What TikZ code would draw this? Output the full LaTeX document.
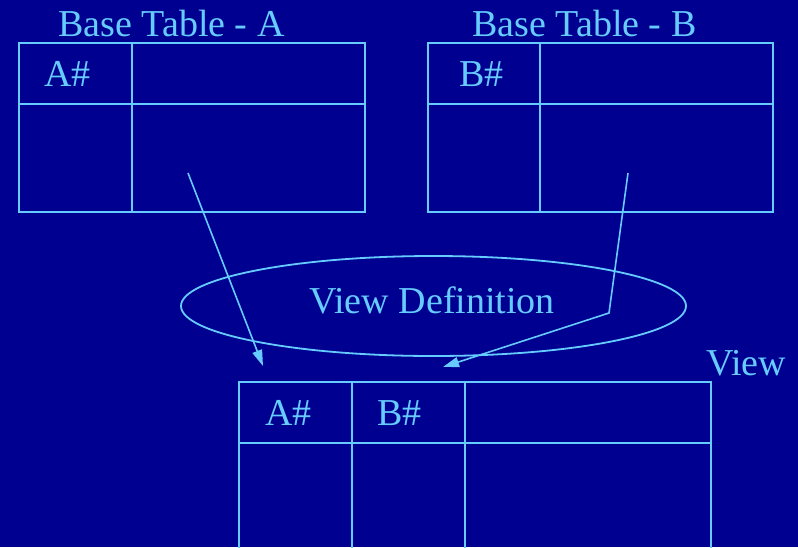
\documentclass[tikz,border=0pt]{standalone}
\usepackage{fontspec}
\setmainfont{Liberation Serif}
\usetikzlibrary{arrows.meta,shapes.geometric}
\definecolor{bgc}{HTML}{000090}
\definecolor{fgc}{HTML}{66CCFF}
\begin{document}
\begin{tikzpicture}[x=1pt,y=-1pt,
  ln/.style={draw=fgc,line width=1.8pt},
  tbl/.style={ln,rectangle,inner sep=0pt,anchor=north west},
  lbl/.style={text=fgc,font=\fontsize{38}{40}\selectfont,inner sep=0pt,anchor=base west},
  arr/.style={draw=fgc,line width=1.6pt,-{Triangle[length=16pt,width=10pt]}}]
\fill[bgc] (0,0) rectangle (798,547);
\useasboundingbox (0,0) rectangle (798,547);
% Table A
\node[tbl,minimum width=346pt,minimum height=169pt] (ta) at (18,42) {};
\draw[ln] (ta.west |- 0,104) -- (ta.east |- 0,104);
\draw[ln] (132,0 |- ta.north) -- (132,0 |- ta.south);
\node[lbl] (ttA) at (58,36) {Base Table - A};
\node[lbl] (ahA) at (44,86) {A\#};
% Table B
\node[tbl,minimum width=345pt,minimum height=169pt] (tb) at (427,42) {};
\draw[ln] (tb.west |- 0,104) -- (tb.east |- 0,104);
\draw[ln] (540,0 |- tb.north) -- (540,0 |- tb.south);
\node[lbl] (ttB) at (472,36) {Base Table - B};
\node[lbl] (bhB) at (459,86) {B\#};
% Ellipse
\node[ellipse,ln,minimum width=505pt,minimum height=100pt,inner sep=0pt] (vd) at (433.5,306) {};
\node[lbl] (vdt) at (309,313) {View Definition};
% View table
\node[tbl,minimum width=472pt,minimum height=200pt] (tv) at (238,381) {};
\draw[ln] (tv.west |- 0,443) -- (tv.east |- 0,443);
\draw[ln] (352,0 |- tv.north) -- (352,0 |- tv.south);
\draw[ln] (465,0 |- tv.north) -- (465,0 |- tv.south);
\node[lbl] (vt) at (706,375) {View};
\node[lbl] (vA) at (265,425) {A\#};
\node[lbl] (vB) at (377,425) {B\#};
% Arrows
\coordinate (s1) at (188,173);
\coordinate (e1) at (263,366);
\coordinate (s2) at (628,173);
\coordinate (k2) at (609,313);
\coordinate (e2) at (443,367);
\draw[arr] (s1) -- (e1);
\draw[arr] (s2) -- (k2) -- (e2);
\end{tikzpicture}
\end{document}
